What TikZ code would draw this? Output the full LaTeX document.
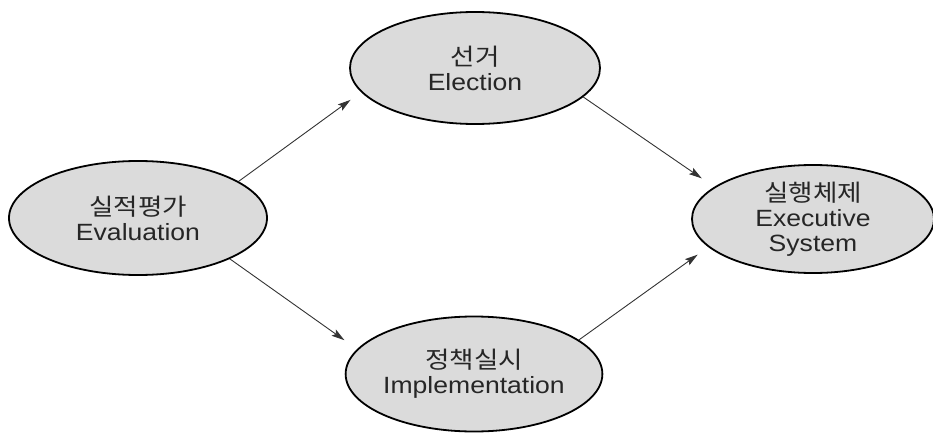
\documentclass[tikz,border=0pt]{standalone}
\usepackage{fontspec}
\setmainfont{Liberation Sans}[FakeStretch=1.13]
\newfontfamily\kr{Noto Sans CJK KR}[FakeStretch=1.13]
\usetikzlibrary{shapes.geometric,arrows.meta}
\begin{document}
\begin{tikzpicture}[x=1pt,y=-1pt,
  stage/.style={ellipse,draw=black,line width=1.8pt,fill=black!14,inner sep=0pt,align=center,text=black!85,font=\fontsize{23.5}{25}\selectfont},
  flow/.style={-{Stealth[length=13pt,width=7.5pt,inset=2.5pt]},line width=0.9pt,draw=black!80}]
\useasboundingbox (0,0) rectangle (933,433);
\node[stage,minimum width=258pt,minimum height=114pt] (eval) at (138,218) {{\kr 실적평가}\\Evaluation};
\node[stage,minimum width=250pt,minimum height=112pt] (elec) at (475,68) {{\kr 선거}\\Election};
\node[stage,minimum width=248pt,minimum height=115pt] (impl) at (474,374) {{\kr 정책실시}\\Implementation};
\node[stage,minimum width=242pt,minimum height=108pt] (exec) at (813,219) {{\kr 실행체제}\\Executive\\System};
\draw[flow,shorten >=13pt] (eval.20) -- (elec.192.3);
\draw[flow,shorten >=15pt] (elec.345.4) -- (exec.162.2);
\draw[flow,shorten >=15.5pt] (eval.336) -- (impl.168.5);
\draw[flow,shorten >=13pt] (impl.18.1) -- (exec.195.1);
\end{tikzpicture}
\end{document}
